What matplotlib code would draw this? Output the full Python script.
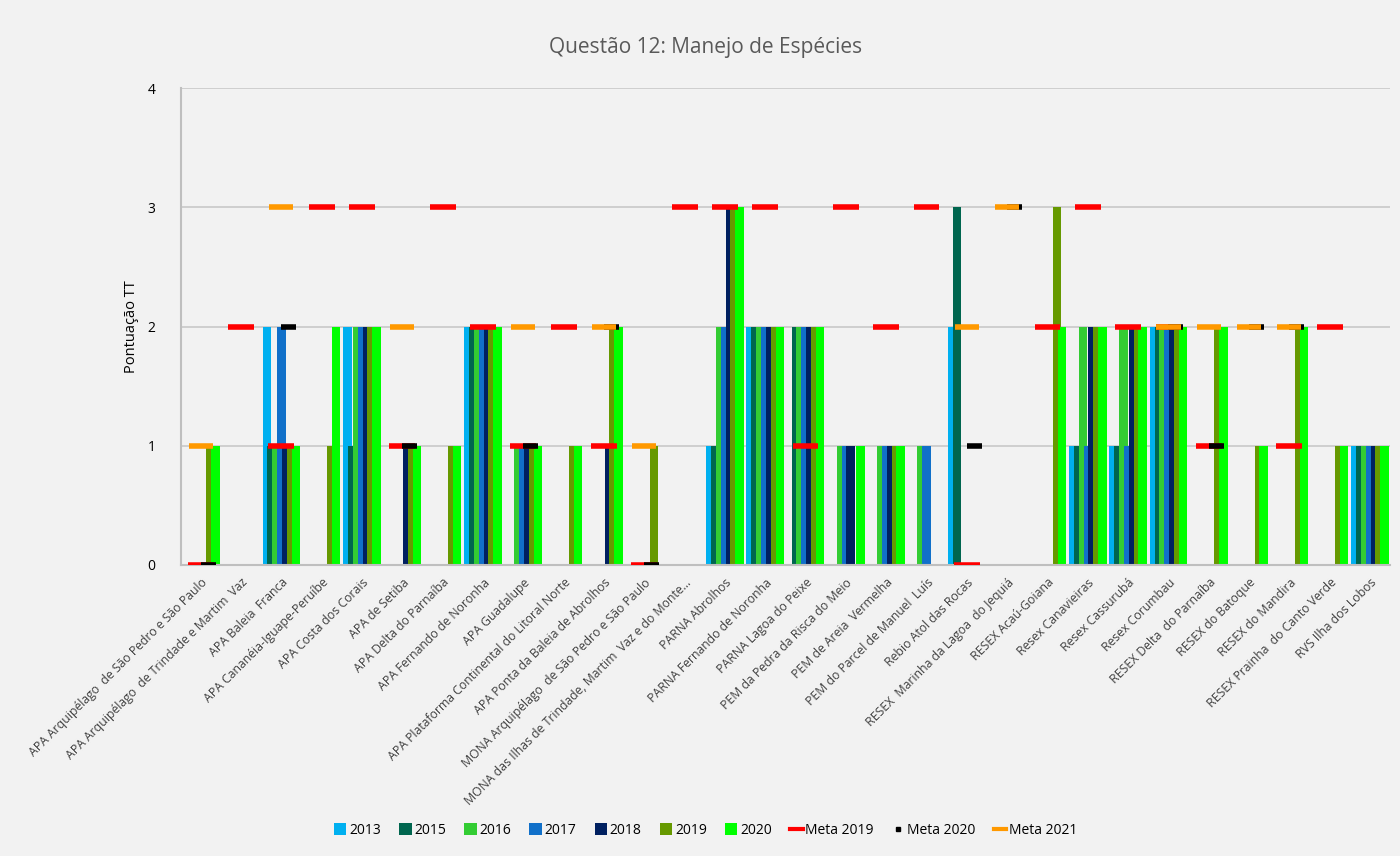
import numpy as np
import matplotlib.pyplot as plt
from matplotlib.patches import Patch
from matplotlib.lines import Line2D

plt.rcParams['font.family'] = ['Open Sans', 'DejaVu Sans']

# Unidades de conservação (categorias)
categorias = [
    "APA Arquipélago  de São Pedro e São Paulo",
    "APA Arquipélago  de Trindade e Martim  Vaz",
    "APA Baleia  Franca",
    "APA Cananéia-Iguape-Peruíbe",
    "APA Costa dos Corais",
    "APA de Setiba",
    "APA Delta do Parnaíba",
    "APA Fernando de Noronha",
    "APA Guadalupe",
    "APA Plataforma Continental do Litoral Norte",
    "APA Ponta da Baleia de Abrolhos",
    "MONA Arquipélago  de São Pedro e São Paulo",
    "MONA das Ilhas de Trindade, Martim  Vaz e do Monte...",
    "PARNA Abrolhos",
    "PARNA Fernando de Noronha",
    "PARNA Lagoa do Peixe",
    "PEM da Pedra da Risca do Meio",
    "PEM de Areia  Vermelha",
    "PEM do Parcel de Manuel  Luís",
    "Rebio Atol das Rocas",
    "RESEX  Marinha da Lagoa  do Jequiá",
    "RESEX Acaú-Goiana",
    "Resex Canavieiras",
    "Resex Cassurubá",
    "Resex Corumbau",
    "RESEX Delta  do Parnaíba",
    "RESEX do Batoque",
    "RESEX do Mandira",
    "RESEX Prainha  do Canto Verde",
    "RVS Ilha dos Lobos",
]

n = np.nan
anos = ["2013", "2015", "2016", "2017", "2018", "2019", "2020"]
v2013 = [n, n, 2, n, 2, n, n, 2, n, n, n, n, n, 1, 2, n, n, n, n, 2, n, n, 1, 1, 2, n, n, n, n, 1]
v2015 = [n, n, 1, n, 1, n, n, 2, n, n, n, n, n, 1, 2, 2, n, n, n, 3, n, n, 1, 1, 2, n, n, n, n, 1]
v2016 = [n, n, 1, n, 2, n, n, 2, 1, n, n, n, n, 2, 2, 2, 1, 1, 1, n, n, n, 2, 2, 2, n, n, n, n, 1]
v2017 = [n, n, 2, n, 2, n, n, 2, 1, n, n, n, n, 2, 2, 2, 1, 1, 1, n, n, n, 1, 1, 2, n, n, n, n, 1]
v2018 = [n, n, 1, n, 2, 1, n, 2, 1, n, 1, n, n, 3, 2, 2, 1, 1, n, n, n, n, 2, 2, 2, n, n, n, n, 1]
v2019 = [1, n, 1, 1, 2, 1, 1, 2, 1, 1, 2, 1, n, 3, 2, 2, n, 1, n, n, n, 3, 2, 2, 2, 2, 1, 2, 1, 1]
v2020 = [1, n, 1, 2, 2, 1, 1, 2, 1, 1, 2, n, n, 3, 2, 2, 1, 1, n, n, n, 2, 2, 2, 2, 2, 1, 2, 1, 1]
series = [v2013, v2015, v2016, v2017, v2018, v2019, v2020]
cores = ["#00B0F0", "#00664F", "#33CC33", "#1170C9", "#002060", "#669900", "#00FF00"]

meta2019 = [0, 2, 1, 3, 3, 1, 3, 2, 1, 2, 1, 0, 3, 3, 3, 1, 3, 2, 3, 0, n, 2, 3, 2, 2, 1, n, 1, 2, n]
meta2020 = [0, n, 2, n, n, 1, n, n, 1, n, 2, 0, n, n, n, n, n, n, n, 1, 3, n, n, n, 2, 1, 2, 2, n, n]
meta2021 = [1, n, 3, n, n, 2, n, n, 2, n, 2, 1, n, n, n, n, n, n, n, 2, 3, n, n, n, 2, 2, 2, 2, n, n]

fig = plt.figure(figsize=(14, 8.56), dpi=100, facecolor="#F2F2F2")
ax = fig.add_axes([0.129, 0.34, 0.864, 0.557])
ax.set_facecolor("#F2F2F2")

x = np.arange(len(categorias))
passo = 0.12
largura = 0.21
for i, (vals, cor, ano) in enumerate(zip(series, cores, anos)):
    ax.bar(x + (i - 3) * passo, vals, width=largura, color=cor, zorder=2 + i * 0.01, linewidth=0)

# Metas como traços horizontais
m19 = np.array(meta2019, dtype=float)
m20 = np.array(meta2020, dtype=float)
m21 = np.array(meta2021, dtype=float)
ok = ~np.isnan(m19)
ax.hlines(m19[ok], x[ok] - 0.32, x[ok] + 0.32, colors="#FF0000", linewidth=4, zorder=5)
ok = ~np.isnan(m20)
ax.hlines(m20[ok], x[ok], x[ok] + 0.37, colors="#000000", linewidth=4, zorder=6)
ok = ~np.isnan(m21)
ax.hlines(m21[ok], x[ok] - 0.3, x[ok] + 0.3, colors="#FF9900", linewidth=4, zorder=7)

ax.set_xlim(-0.5, len(categorias) - 0.5)
ax.set_ylim(0, 4)
ax.set_yticks([0, 1, 2, 3, 4])
ax.yaxis.grid(True, color="#C8C8C8", linewidth=1.2, zorder=0)
ax.set_axisbelow(True)
for s in ["top", "right"]:
    ax.spines[s].set_visible(False)
ax.spines["left"].set_color("#BFBFBF")
ax.spines["left"].set_linewidth(1.5)
ax.spines["bottom"].set_color("#BFBFBF")
ax.spines["bottom"].set_linewidth(1.5)
ax.tick_params(axis="y", length=0, pad=18, labelsize=10)
ax.tick_params(axis="x", length=0, pad=8)
ax.set_xticks(x)
ax.set_xticklabels(categorias, rotation=45, ha="right", va="top",
                   rotation_mode="anchor", fontsize=8.8, color="#404040")
ax.set_ylabel("Pontuação TT", fontsize=10.5, labelpad=6)

fig.text(0.504, 0.945, "Questão 12: Manejo de Espécies", ha="center", va="center",
         fontsize=15, color="#595959")

handles = [Patch(facecolor=c, label=a) for c, a in zip(cores, anos)]
handles += [
    Line2D([], [], color="#FF0000", linewidth=3, label="Meta 2019"),
    Line2D([], [], color="#000000", marker="s", markersize=3, linestyle="none", label="Meta 2020"),
    Line2D([], [], color="#FF9900", linewidth=3, label="Meta 2021"),
]
fig.legend(handles=handles, loc="center", bbox_to_anchor=(0.504, 0.03), ncol=10,
           frameon=False, fontsize=10, handlelength=0.9, handletextpad=0.2,
           columnspacing=1.3, handleheight=0.9)

fig.savefig("out.png", dpi=100, facecolor=fig.get_facecolor())
